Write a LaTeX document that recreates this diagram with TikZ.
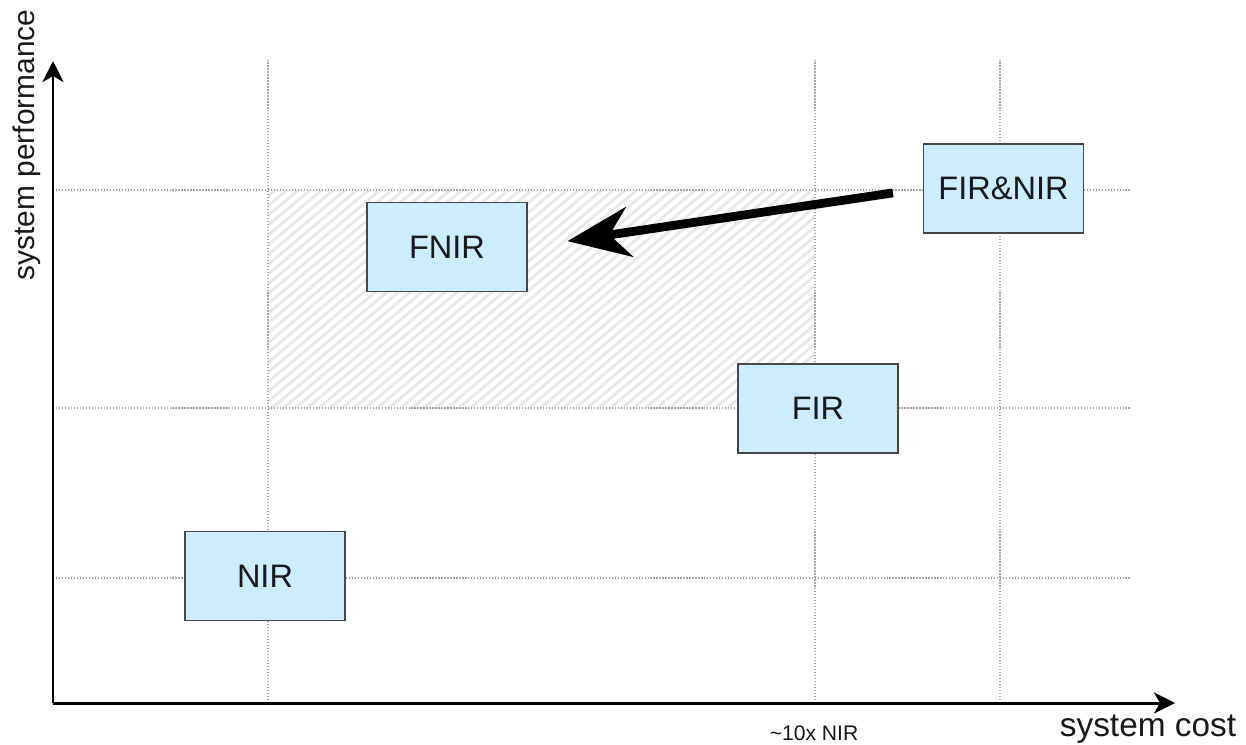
\documentclass[tikz,border=0pt]{standalone}
\usepackage{fontspec}
\setmainfont{Liberation Sans}
\usetikzlibrary{arrows.meta, patterns.meta}

\definecolor{boxblue}{RGB}{204,236,255}
\definecolor{boxline}{RGB}{70,70,70}
\definecolor{textgray}{RGB}{25,25,25}
\definecolor{hatchgray}{RGB}{232,232,232}

\tikzset{
	sysbox/.style = {draw = boxline, line width = 1pt, fill = boxblue,
		minimum width = 3.2cm, minimum height = 1.78cm,
		font = \fontsize{18.5}{20}\selectfont, text = textgray},
	gridline/.style = {gray!70, densely dotted, line width = 0.7pt},
	axis/.style = {-{Stealth[length = 0.42cm, width = 0.42cm, inset = 0.12cm]}, line width = 1.7pt}
}

\begin{document}
\begin{tikzpicture}[> = latex]

	\useasboundingbox (0, 0) rectangle (24.92, 14.88);

	% Shaded region
	
	\fill [pattern = {Lines[angle = 40, distance = 0.15cm, line width = 0.06cm]}, pattern color = hatchgray]
		(5.36, 6.72) rectangle (16.30, 11.08);
	
	% Grid
	
	\begin{scope}[gridline]
	
		\draw (5.36, 0.82) -- (5.36, 13.68);
		\draw (16.30, 0.82) -- (16.30, 13.68);
		\draw (20.00, 0.82) -- (20.00, 13.68);
		
		\draw (1.06, 11.08) -- (22.6, 11.08);
		\draw (1.06, 6.72) -- (22.6, 6.72);
		\draw (1.06, 3.32) -- (22.6, 3.32);
		
	\end{scope}
	
	% Axes
	
	\coordinate (origin) at (1.06, 0.82);
	\coordinate (xend) at (23.5, 0.82);
	\coordinate (yend) at (1.06, 13.66);
	
	\draw [axis] (origin) -- (xend);
	\draw [axis] (origin) -- (yend);
	
	\node [rotate = 90, text = textgray, font = \fontsize{17}{19}\selectfont] (ylabel) at (0.54, 11.98) {system performance};
	\node [text = textgray, font = \fontsize{19}{21}\selectfont] (xlabel) at (22.96, 0.30) {system cost};
	\node [text = textgray, font = \fontsize{12}{14}\selectfont] (tick) at (16.28, 0.22) {\textasciitilde10x NIR};
	
	% Systems
	
	\node [sysbox] (fnir) at (8.94, 9.94) {FNIR};
	\node [sysbox] (firnir) at (20.07, 11.11) {FIR\&NIR};
	\node [sysbox] (fir) at (16.36, 6.71) {FIR};
	\node [sysbox] (nir) at (5.30, 3.36) {NIR};
	
	% Trend
	
	\draw [-{Stealth[length = 1.25cm, width = 1.0cm, inset = 0.4cm]}, line width = 5pt,
		shorten <= 0.6cm, shorten >= 0.8cm] (firnir.west) -- (fnir.east);

\end{tikzpicture}
\end{document}
